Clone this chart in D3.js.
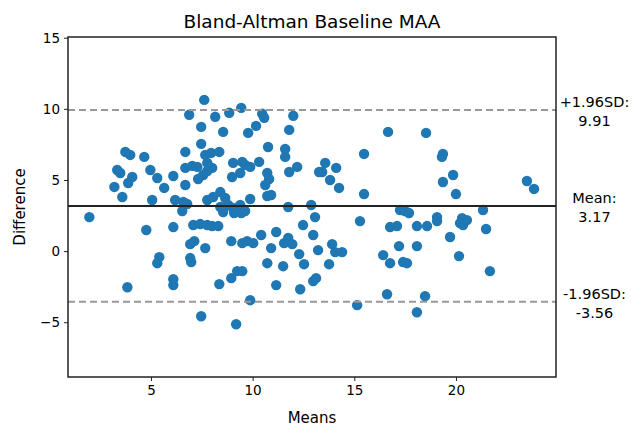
<!DOCTYPE html>
<html>
<head>
<meta charset="utf-8">
<script src="https://cdn.jsdelivr.net/npm/d3@7.9.0/dist/d3.min.js"></script>
<style>
  body { margin: 0; background: #fff; }
  svg { display: block; font-family: "DejaVu Sans", sans-serif; }
</style>
</head>
<body>
<svg id="chart" width="633" height="428"></svg>
<script>
// averages of the two measurements (x) and their differences (y)
const means = [
  1.97, 3.20, 3.34, 3.49, 3.59, 3.74, 3.98, 3.88, 4.08, 4.67, 3.84, 4.77,
  4.97, 5.06, 5.31, 5.65, 6.10, 6.19, 6.59, 6.78, 6.54, 6.69, 6.69, 6.69,
  6.88, 6.10, 5.41, 5.31, 6.10, 6.10, 7.08, 6.93, 7.13, 6.93, 6.98, 7.03,
  7.28, 7.32,
  7.62, 7.47, 7.47, 7.67, 7.96, 8.36, 7.57, 7.77, 8.01, 7.77, 7.77, 8.06,
  8.41, 8.65, 8.41, 8.55, 8.80, 9.04, 9.39, 9.09, 9.44, 9.63, 9.88, 7.42,
  7.77, 8.01, 8.31, 7.67, 7.47, 8.16, 8.85, 9.44, 8.55, 9.04, 9.49, 9.63,
  9.88, 8.99, 9.39, 9.78, 8.95, 9.49, 9.73, 10.03, 8.36, 8.95, 9.24, 9.49,
  9.19, 9.88,
  10.17, 10.32, 10.47, 10.57, 10.76, 10.72, 10.81, 10.62, 10.72, 10.91,
  10.42, 11.16, 10.91, 10.72, 11.50, 11.16, 11.55, 11.75, 11.95, 11.60,
  11.60, 11.80, 12.00, 12.19, 11.80, 11.75, 12.29, 12.34,
  12.48, 12.53, 12.88, 13.07, 12.98, 13.22, 12.98, 13.12, 13.27, 13.57,
  13.42, 14.11, 13.81, 14.25, 13.91, 14.06, 14.40, 13.76,
  15.48, 15.48, 15.28, 15.14, 16.66, 17.25, 17.49, 17.69, 16.76, 17.10,
  18.08, 18.58, 17.20, 18.08, 16.42, 16.76, 17.40, 17.59, 16.61, 18.48,
  18.08, 18.53, 19.07, 19.07, 19.36, 19.31, 19.36, 19.71,
  19.86, 20.00, 20.15, 20.30, 20.54, 20.20, 20.35, 21.33, 21.48, 21.67,
  23.49, 23.84
];
const diffs = [
  2.39, 4.51, 5.70, 5.49, 3.80, 6.97, 6.76, 4.79, 5.21, 6.62, -2.54, 1.48,
  5.70, 3.59, 5.14, 4.44, 5.28, 3.59, 3.45, 3.31, 2.82, 6.97, 5.85, 4.65,
  9.58, 1.69, -0.42, -0.85, -1.97, -2.39, 1.83, 0.49, 0.70, -0.49, -0.77, 5.99,
  5.92, 5.07,
  10.63, 8.73, 7.54, 6.76, 6.90, 6.97, 5.35, 5.63, 5.85, 6.20, 3.59, 3.80,
  4.15, 3.73, 3.10, 2.75, 3.24, 3.03, 3.24, 2.68, 2.68, 2.82, 3.66, 1.90,
  1.83, 1.76, 1.76, 0.21, -4.58, 9.44, 9.72, 10.07, 8.38, 6.20, 6.27, 6.06,
  5.92, 5.21, 5.49, 8.31, 0.70, 0.56, 0.70, 0.56, -2.32, -1.90, -1.41, -1.41,
  -5.14, -3.45,
  8.80, 6.27, 9.65, 9.37, 7.32, 5.49, 5.07, 4.65, 3.87, 3.94,
  1.13, 1.34, 0.21, -0.85, -1.06, -2.39, 0.56, 0.92, 0.49, 7.18,
  6.62, 8.52, 9.51, 5.92, 5.56, 3.10, -0.21, -2.68,
  1.83, -0.92, 3.24, 2.39, 1.13, 0.07, -2.11, -1.90, 5.56, 6.20,
  5.56, 5.85, 5.00, 4.44, 0.49, -0.07, -0.07, -0.92,
  6.83, 4.01, 2.11, -3.80, 8.38, 2.89, 2.82, 2.68, 1.69, 1.76,
  1.76, 1.76, 0.35, 0.35, -0.28, -0.85, -0.77, -0.85, -3.03, -3.17,
  -4.30, 8.31, 2.39, 2.11, 6.83, 6.62, 4.86, 0.99,
  5.35, 4.01, -0.35, 2.32, 2.18, 1.97, 1.83, 2.89, 1.55, -1.41,
  4.93, 4.37
];
const meanDiff = 3.17;
const upperLoA = 9.91;
const lowerLoA = -3.56;
const xTicks = [5, 10, 15, 20];
const yTicks = [-5, 0, 5, 10, 15];

const svg = d3.select('#chart');
const plotLeft = 68, plotRight = 556, plotTop = 37, plotBottom = 377;

const x = d3.scaleLinear().domain([0.92, 24.92]).range([plotLeft, plotRight]);
const y = d3.scaleLinear().domain([-8.85, 15.05]).range([plotBottom, plotTop]);

// title
svg.append('text')
  .attr('x', (plotLeft + plotRight) / 2)
  .attr('y', 28)
  .attr('text-anchor', 'middle')
  .attr('font-size', 18.5)
  .text('Bland-Altman Baseline MAA');

// points
svg.append('g')
  .selectAll('circle')
  .data(means.map((m, i) => [m, diffs[i]]))
  .join('circle')
  .attr('cx', (d) => x(d[0]))
  .attr('cy', (d) => y(d[1]))
  .attr('r', 5.2)
  .attr('fill', '#1f77b4');

// mean and limits of agreement
svg.append('line')
  .attr('x1', plotLeft).attr('x2', plotRight)
  .attr('y1', y(meanDiff)).attr('y2', y(meanDiff))
  .attr('stroke', '#222').attr('stroke-width', 2);

[upperLoA, lowerLoA].forEach((v) => {
  svg.append('line')
    .attr('x1', plotLeft).attr('x2', plotRight)
    .attr('y1', y(v)).attr('y2', y(v))
    .attr('stroke', '#999').attr('stroke-width', 2)
    .attr('stroke-dasharray', '7,4');
});

// annotations to the right
const notes = [
  [upperLoA, '+1.96SD:', upperLoA.toFixed(2)],
  [meanDiff, 'Mean:', meanDiff.toFixed(2)],
  [lowerLoA, '-1.96SD:', lowerLoA.toFixed(2)]
];
notes.forEach(([v, a, b]) => {
  const g = svg.append('g').attr('font-size', 14.5).attr('text-anchor', 'middle');
  g.append('text').attr('x', 594.5).attr('y', y(v) - 3).text(a);
  g.append('text').attr('x', 594.5).attr('y', y(v) + 16).text(b);
});

// axes
const xAxis = svg.append('g')
  .attr('transform', `translate(0,${plotBottom})`)
  .call(d3.axisBottom(x).tickValues(xTicks).tickSize(4).tickPadding(4).tickFormat(d3.format('d')));
const yAxis = svg.append('g')
  .attr('transform', `translate(${plotLeft},0)`)
  .call(d3.axisLeft(y).tickValues(yTicks).tickSize(4).tickPadding(4)
    .tickFormat((d) => (d < 0 ? '\u2212' + Math.abs(d) : d)));
[xAxis, yAxis].forEach((ax) => {
  ax.select('.domain').remove();
  ax.selectAll('.tick line').attr('stroke', '#222');
  ax.selectAll('.tick text')
    .attr('font-size', 13.5)
    .attr('fill', '#000')
    .attr('font-family', '"DejaVu Sans", sans-serif');
});

// frame
svg.append('rect')
  .attr('x', plotLeft).attr('y', plotTop)
  .attr('width', plotRight - plotLeft).attr('height', plotBottom - plotTop)
  .attr('fill', 'none').attr('stroke', '#222').attr('stroke-width', 1.5);

// axis labels
svg.append('text')
  .attr('x', (plotLeft + plotRight) / 2)
  .attr('y', 423)
  .attr('text-anchor', 'middle')
  .attr('font-size', 15)
  .text('Means');
svg.append('text')
  .attr('transform', `translate(25,${(plotTop + plotBottom) / 2}) rotate(-90)`)
  .attr('text-anchor', 'middle')
  .attr('font-size', 15)
  .text('Difference');
</script>
</body>
</html>
